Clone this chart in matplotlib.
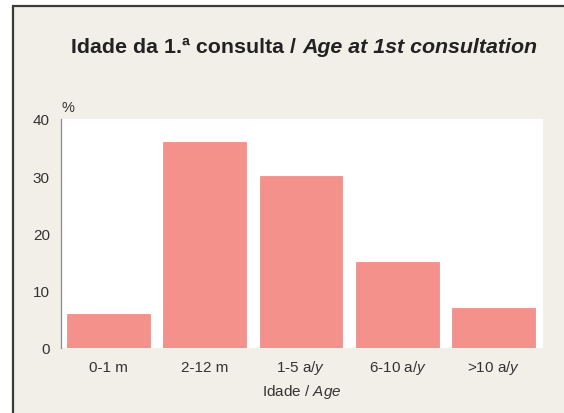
import numpy as np
import matplotlib
matplotlib.use("Agg")
import matplotlib.pyplot as plt
from matplotlib.patches import Rectangle

plt.rcParams['font.family'] = ['Liberation Sans', 'DejaVu Sans']
plt.rcParams['mathtext.fontset'] = 'custom'
plt.rcParams['mathtext.rm'] = 'Liberation Sans'
plt.rcParams['mathtext.it'] = 'Liberation Sans:italic'
plt.rcParams['mathtext.bf'] = 'Liberation Sans:bold'

# data
categories = ["0-1 m", "2-12 m", "1-5 a/$\\mathit{y}$", "6-10 a/$\\mathit{y}$", ">10 a/$\\mathit{y}$"]
values = [6, 36, 30, 15, 7]
yticks = [0, 10, 20, 30, 40]

W, H = 564, 414
fig = plt.figure(figsize=(W / 100, H / 100), dpi=100, facecolor="white")

# beige panel with dark frame line on left/top
bg = "#F2EFE8"
fig.patches.append(Rectangle((13 / W, -0.05), 1.1, 1 - 7 / H + 0.05, transform=fig.transFigure,
                             facecolor=bg, edgecolor="#3a3a3a", lw=1.6, zorder=-5))

ax = fig.add_axes([61 / W, 1 - 349 / H, (543 - 61) / W, (349 - 120) / H])
ax.set_zorder(2)
ax.set_facecolor("white")

x = np.arange(len(values))
ax.bar(x, values, width=0.86, color="#F4918B", edgecolor="#E08A84", linewidth=0.5, zorder=2)

ax.set_xlim(-0.49, len(values) - 0.49)
ax.set_ylim(0, 40)
ax.set_yticks(yticks)
ax.set_xticks(x)
ax.set_xticklabels(categories)
ax.tick_params(axis="both", length=0, labelsize=11, colors="#333333")
ax.tick_params(axis="x", pad=16.5)
ax.tick_params(axis="y", pad=8)
for lbl in ax.get_xticklabels():
    lbl.set_va("baseline")

for s in ["top", "right", "bottom"]:
    ax.spines[s].set_visible(False)
ax.spines["left"].set_color("#8a8a8a")
ax.spines["left"].set_linewidth(0.9)

fig.text(302 / W, 1 - 396 / H, "Idade / $\\mathit{Age}$", fontsize=11, color="#333333",
         ha="center", va="baseline")

fig.text(62 / W, 1 - 112 / H, "%", fontsize=10.5, color="#333333", ha="left", va="baseline")

# title: regular bold part + bold italic part
t1 = fig.text(71 / W, 1 - 53 / H, "Idade da 1.ª consulta / ", fontsize=15.4, fontweight="bold",
              color="#222222", ha="left", va="baseline", zorder=3)
fig.draw_without_rendering()
ax.annotate("Age at 1st consultation", xy=(1, 0), xycoords=t1, ha="left", va="bottom",
            fontsize=15.4, fontweight="bold", fontstyle="italic", color="#222222")

fig.savefig("out.png", dpi=100, facecolor=fig.get_facecolor())
